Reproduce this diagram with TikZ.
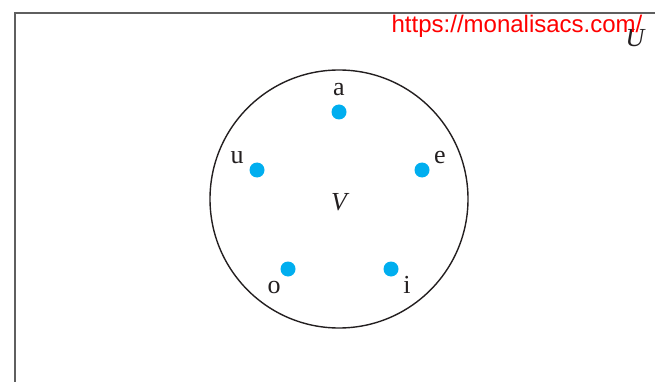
\documentclass[tikz,border=0pt]{standalone}
\usepackage{fontspec}
\setmainfont{Liberation Serif}
\newfontfamily\urlfont{Liberation Sans}
\usepackage{tikz}
\usetikzlibrary{positioning}
\definecolor{dotBlue}{RGB}{0,174,239}
\definecolor{inkDark}{RGB}{35,31,32}
\definecolor{frameGray}{RGB}{95,95,95}
\definecolor{linkRed}{RGB}{255,0,0}
\tikzset{
  elem/.style={
    circle, fill=dotBlue, draw=none,
    inner sep=0pt, minimum size=15pt
  },
  elemlabel/.style={
    text=inkDark, inner sep=0pt, anchor=base,
    font=\fontsize{26}{30}\selectfont
  },
  setlabel/.style={
    text=inkDark, inner sep=0pt, anchor=base,
    font=\fontsize{26}{30}\selectfont\itshape
  },
  setcircle/.style={
    circle, draw=inkDark, line width=1.4pt,
    inner sep=0pt, minimum size=258pt
  },
  universe/.style={
    draw=frameGray, line width=2.2pt
  }
}

\begin{document}
\begin{tikzpicture}[x=1pt, y=-1pt]
\useasboundingbox (0,0) rectangle (655,382);
\clip (0,0) rectangle (655,382);

% --- universe U ---
\draw[universe] (15,13) rectangle (720,440);
\node[setlabel] (labU) at (635,47) {U};
\node[text=linkRed, font=\urlfont\fontsize{24}{28}\selectfont,
      inner sep=0pt, anchor=base] (link) at (517,33) {https://monalisacs.com/};

% --- set V ---
\node[setcircle] (setV) at (339,199) {};
\node[setlabel] (labV) at (339,210) {V};

% --- vowels ---
\node[elem] (dA) at (339,112) {};
\node[elem] (dU) at (257,170) {};
\node[elem] (dE) at (422,170) {};
\node[elem] (dO) at (288,269) {};
\node[elem] (dI) at (391,269) {};

\node[elemlabel] (lA) at (339,96) {a};
\node[elemlabel] (lU) at (237,164) {u};
\node[elemlabel] (lE) at (440,164) {e};
\node[elemlabel] (lO) at (274,293) {o};
\node[elemlabel] (lI) at (407,293) {i};

\end{tikzpicture}
\end{document}
